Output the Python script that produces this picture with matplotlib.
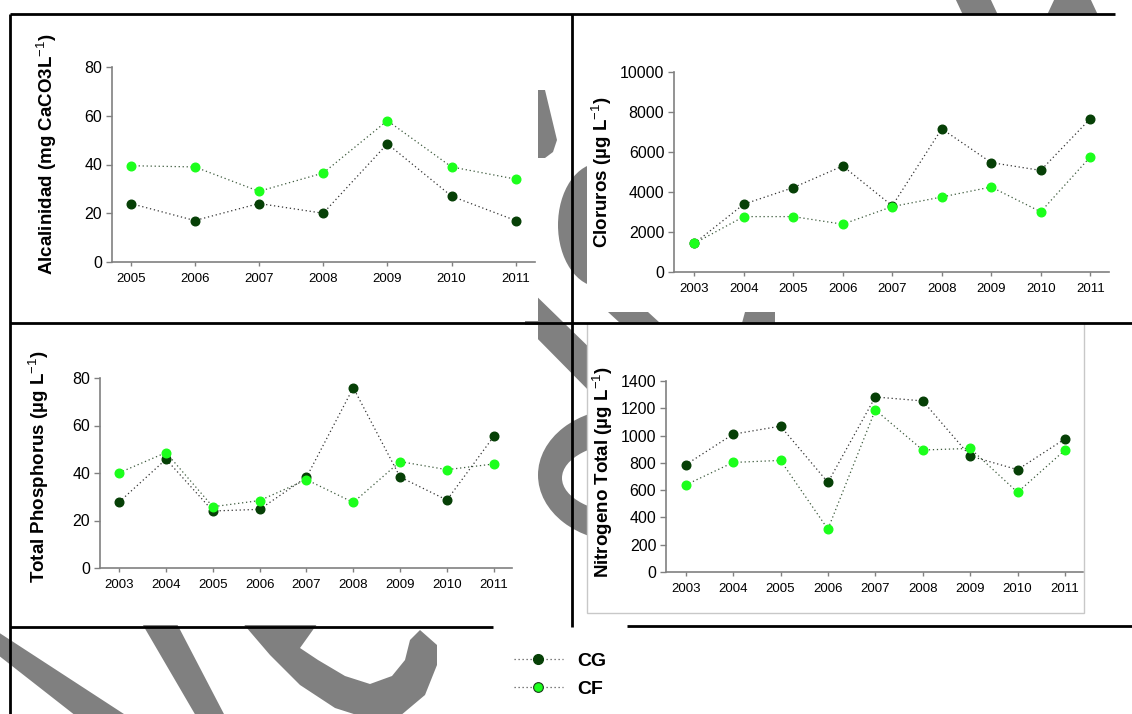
import numpy as np
import matplotlib
matplotlib.use('Agg')
import matplotlib.pyplot as plt
from matplotlib.patches import Polygon, Rectangle, Ellipse
from matplotlib.lines import Line2D

plt.rcParams['font.family'] = ['Liberation Sans', 'DejaVu Sans']
plt.rcParams['mathtext.fontset'] = 'custom'
plt.rcParams['mathtext.rm'] = 'Liberation Sans'
plt.rcParams['mathtext.it'] = 'Liberation Sans:italic'
plt.rcParams['mathtext.bf'] = 'Liberation Sans:bold'

W, H = 1132, 714

# data
years_alc = ['2005', '2006', '2007', '2008', '2009', '2010', '2011']
alc_cg = [24, 17, 24, 20, 48.5, 27, 17]
alc_cf = [39.5, 39, 29, 36.5, 58, 39, 34]

years = ['2003', '2004', '2005', '2006', '2007', '2008', '2009', '2010', '2011']
clor_cg = [1430, 3390, 4220, 5300, 3310, 7160, 5470, 5080, 7660]
clor_cf = [1430, 2770, 2770, 2390, 3270, 3750, 4250, 3010, 5750]
tp_cg = [27.8, 45.8, 24.0, 24.7, 38.2, 75.9, 38.3, 28.6, 55.4]
tp_cf = [40.1, 48.6, 25.8, 28.4, 37.2, 27.6, 44.8, 41.4, 43.8]
nt_cg = [786, 1010, 1069, 657, 1283, 1254, 850, 750, 976]
nt_cf = [638, 803, 818, 314, 1188, 894, 906, 584, 894]

CG = '#064006'
CF = '#1cff1c'
AXC = '#808080'


def px_rect(l, t, r, b):
    return [l / W, 1 - b / H, (r - l) / W, (b - t) / H]


fig = plt.figure(figsize=(W / 100, H / 100), dpi=100)
fig.patch.set_facecolor('white')

# background: watermark shapes, covered by white chart areas
bg = fig.add_axes([0, 0, 1, 1], zorder=0)
bg.set_xlim(0, W)
bg.set_ylim(H, 0)
bg.axis('off')
wm = '#808080'
shapes = [
    [(955, -2), (990, -2), (1005, 30), (970, 30)],
    [(1055, -2), (1090, -2), (1105, 30), (1040, 30)],
    [(538, 90), (545, 90), (557, 140), (553, 152), (545, 158), (538, 158)],
    [(525, 285), (600, 358), (600, 402), (525, 326)],
    [(608, 312), (648, 312), (660, 323), (620, 323)],
    [(745, 312), (775, 312), (775, 323), (742, 323)],
    [(-2, 632), (-2, 655), (76, 716), (127, 716)],
    [(140, 620), (175, 620), (225, 716), (196, 716)],
    [(240, 620), (270, 655), (300, 685), (335, 708), (360, 716), (400, 716),
     (425, 695), (437, 665), (437, 645), (420, 630), (410, 640), (405, 660),
     (392, 676), (370, 684), (345, 676), (318, 660), (300, 648), (320, 620)],
]
for pts in shapes:
    bg.add_patch(Polygon(pts, closed=True, color=wm, lw=0, zorder=1))
bg.add_patch(Ellipse((600, 225), 84, 124, color=wm, lw=0, zorder=1))
bg.add_patch(Ellipse((625, 475), 174, 134, color=wm, lw=0, zorder=1))
bg.add_patch(Ellipse((632, 478), 140, 72, color='white', lw=0, zorder=1.5))
for (l, t, r, b) in [(10, 14, 538, 321), (587, 14, 1132, 312),
                     (10, 325, 538, 625), (587, 323, 1132, 627)]:
    bg.add_patch(Rectangle((l, t), r - l, b - t, color='white', lw=0, zorder=2))


def panel(box, cats, cg, cf, ymax, ystep, ylabel, margins, label_px):
    l, t, r, b = box
    ax = fig.add_axes(px_rect(l, t, r, b), zorder=2)
    ax.patch.set_alpha(0)
    x = np.arange(len(cats))
    ax.plot(x, cg, linestyle=(0, (1, 2.2)), color='#333333', lw=0.9,
            marker='o', ms=6.2, mfc=CG, mec=CG, clip_on=False, zorder=3)
    ax.plot(x, cf, linestyle=(0, (1, 2.2)), color='#3c5a3c', lw=0.9,
            marker='o', ms=6.2, mfc=CF, mec=CF, clip_on=False, zorder=3)
    ax.set_xlim(-margins[0], len(cats) - 1 + margins[1])
    ax.set_ylim(0, ymax)
    ax.set_yticks(np.arange(0, ymax + 1, ystep))
    ax.set_xticks(x)
    ax.set_xticklabels(cats)
    for s in ['top', 'right']:
        ax.spines[s].set_visible(False)
    for s in ['left', 'bottom']:
        ax.spines[s].set_color(AXC)
        ax.spines[s].set_linewidth(1.2)
    ax.tick_params(axis='x', colors=AXC, labelcolor='black', labelsize=9.5,
                   length=3, width=1, pad=5)
    ax.tick_params(axis='y', colors=AXC, labelcolor='black', labelsize=11.5,
                   length=4, width=1, pad=3)
    fig.text(label_px[0] / W, 1 - label_px[1] / H, ylabel, rotation=90,
             ha='center', va='center', fontsize=13.5, fontweight='bold')
    return ax


panel((112, 67, 535, 262), years_alc, alc_cg, alc_cf, 80, 20,
      r'Alcalinidad (mg CaCO3L$^{-1}$)', (0.29, 0.3), (47, 154))
panel((674, 72, 1109, 272), years, clor_cg, clor_cf, 10000, 2000,
      r'Cloruros (µg L$^{-1}$)', (0.41, 0.38), (602, 172))
panel((100, 378, 512, 568), years, tp_cg, tp_cf, 80, 20,
      r'Total Phosphorus (µg L$^{-1}$)', (0.41, 0.39), (39, 467))
panel((666, 381, 1083, 572), years, nt_cg, nt_cf, 1400, 200,
      r'Nitrogeno Total (µg L$^{-1}$)', (0.415, 0.38), (603, 472))

# frame lines of the layout
ov = fig.add_axes([0, 0, 1, 1], zorder=5)
ov.patch.set_alpha(0)
ov.set_xlim(0, W)
ov.set_ylim(H, 0)
ov.axis('off')
ov.add_patch(Rectangle((587, 323), 1084 - 587, 613 - 323, fill=False,
                       ec='#c8c8c8', lw=1))
frame = dict(color='black', lw=2, solid_capstyle='butt')
ov.plot([10, 1115], [14, 14], **frame)
ov.plot([10, 10], [14, 714], **frame)
ov.plot([572, 572], [14, 627], **frame)
ov.plot([10, 1132], [323, 323], **frame)
ov.plot([10, 493], [627, 627], **frame)
ov.plot([627, 1132], [626, 626], **frame)

handles = [
    Line2D([], [], linestyle=(0, (1, 2.2)), color='#555555', lw=0.9,
           marker='o', ms=7, mfc=CG, mec=CG),
    Line2D([], [], linestyle=(0, (1, 2.2)), color='#555555', lw=0.9,
           marker='o', ms=7, mfc=CF, mec='#1a3a1a', mew=0.8),
]
leg = fig.legend(handles, ['CG', 'CF'], loc='center left',
                 bbox_to_anchor=(514 / W, 1 - 675 / H), frameon=False,
                 fontsize=14, handlelength=2.5,
                 handletextpad=0.75, labelspacing=0.55, borderpad=0,
                 borderaxespad=0)
for t in leg.get_texts():
    t.set_fontweight('bold')

fig.savefig('out.png', dpi=100)
